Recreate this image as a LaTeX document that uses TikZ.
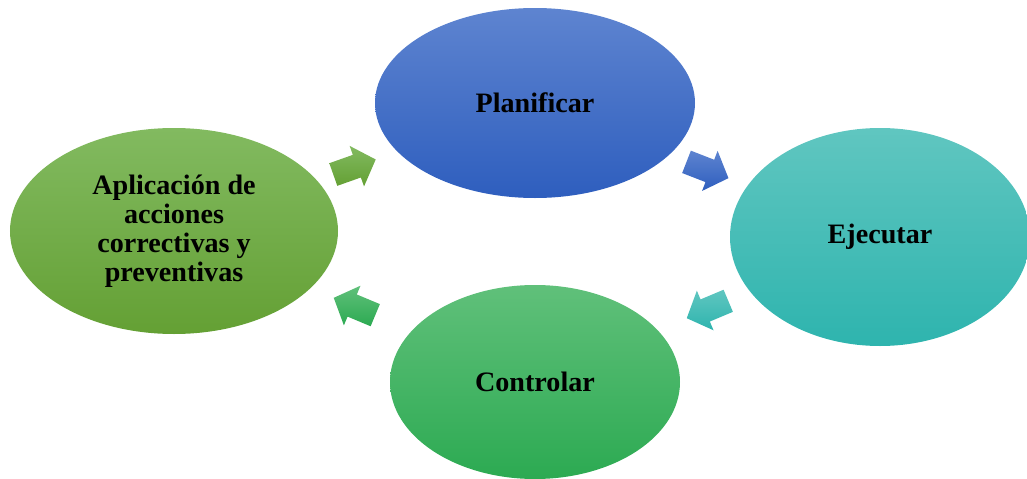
\documentclass[tikz,border=0pt]{standalone}
\usepackage{fontspec}
\setmainfont{Liberation Serif}
\usetikzlibrary{shapes.geometric,calc}

\definecolor{planA}{RGB}{94,132,208}
\definecolor{planB}{RGB}{46,94,190}
\definecolor{ejecA}{RGB}{96,198,192}
\definecolor{ejecB}{RGB}{46,180,174}
\definecolor{ctrlA}{RGB}{96,192,122}
\definecolor{ctrlB}{RGB}{44,170,82}
\definecolor{apliA}{RGB}{130,186,96}
\definecolor{apliB}{RGB}{100,160,52}

\begin{document}
\begin{tikzpicture}[
  fase/.style={ellipse, inner sep=0pt, align=center,
    font=\fontsize{16}{16.5}\selectfont\bfseries}
]
  \useasboundingbox (0,0) rectangle (20.54,-9.58);

  \node[fase, minimum width=6.4cm, minimum height=3.8cm,
    top color=planA, bottom color=planB] (plan) at (10.7,-2.06) {Planificar};
  \node[fase, minimum width=6.0cm, minimum height=4.36cm,
    top color=ejecA, bottom color=ejecB] (ejec) at (17.6,-4.74) {Ejecutar};
  \node[fase, minimum width=5.8cm, minimum height=3.88cm,
    top color=ctrlA, bottom color=ctrlB] (ctrl) at (10.7,-7.64) {Controlar};
  \node[fase, minimum width=6.56cm, minimum height=4.12cm,
    top color=apliA, bottom color=apliB] (apli) at (3.48,-4.62)
    {Aplicación de\\acciones\\correctivas y\\preventivas};

  % flechas de bloque entre las fases
  \foreach \a/\b/\ca/\cb in {apli/plan/apliA/apliB, plan/ejec/planA/planB,
                             ejec/ctrl/ejecA/ejecB, ctrl/apli/ctrlA/ctrlB}
    \shade[top color=\ca, bottom color=\cb]
      let \p1=($(\b)-(\a)$), \n1={atan2(\y1,\x1)} in
      [shift={($(\a)!0.5!(\b)$)}, rotate=\n1]
      (-0.45,-0.24) -- (0.05,-0.24) -- (0.05,-0.43) -- (0.45,0)
      -- (0.05,0.43) -- (0.05,0.24) -- (-0.45,0.24) -- cycle;
\end{tikzpicture}
\end{document}
